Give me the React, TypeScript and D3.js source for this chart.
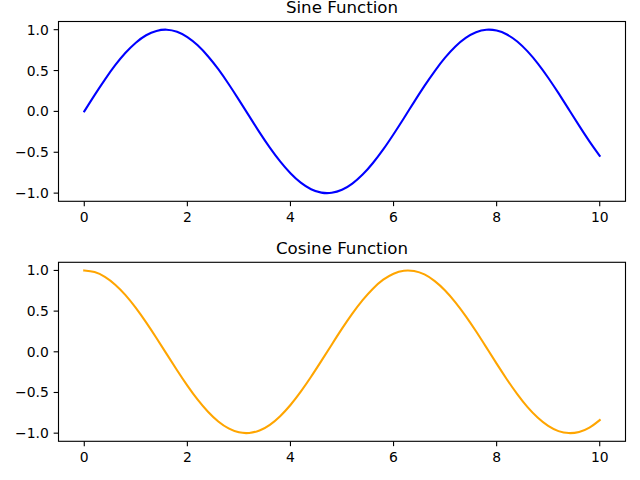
import React from "react";
import * as d3 from "d3";

const xValues = [0,0.2,0.4,0.6,0.8,1.0,1.2,1.4,1.6,1.8,2.0,2.2,2.4,2.6,2.8,3.0,3.2,3.4,3.6,3.8,4.0,4.2,4.4,4.6,4.8,5.0,5.2,5.4,5.6,5.8,6.0,6.2,6.4,6.6,6.8,7.0,7.2,7.4,7.6,7.8,8.0,8.2,8.4,8.6,8.8,9.0,9.2,9.4,9.6,9.8,10.0];
const sineValues = [0,0.199,0.389,0.565,0.717,0.841,0.932,0.985,1.0,0.974,0.909,0.808,0.675,0.516,0.335,0.141,-0.058,-0.256,-0.443,-0.612,-0.757,-0.872,-0.952,-0.994,-0.996,-0.959,-0.883,-0.773,-0.631,-0.465,-0.279,-0.083,0.117,0.312,0.494,0.657,0.794,0.899,0.968,0.999,0.989,0.941,0.855,0.734,0.585,0.412,0.223,0.025,-0.174,-0.366,-0.544];
const cosineValues = [1.0,0.98,0.921,0.825,0.697,0.54,0.362,0.17,-0.029,-0.227,-0.416,-0.589,-0.737,-0.857,-0.942,-0.99,-0.998,-0.967,-0.897,-0.791,-0.654,-0.49,-0.307,-0.112,0.087,0.284,0.469,0.635,0.776,0.886,0.96,0.997,0.993,0.951,0.869,0.754,0.608,0.439,0.252,0.054,-0.146,-0.34,-0.52,-0.68,-0.811,-0.911,-0.975,-0.999,-0.985,-0.932,-0.839];
const xTicks = [0, 2, 4, 6, 8, 10];
const yTicks = [-1.0, -0.5, 0.0, 0.5, 1.0];

const FONT = "DejaVu Sans, sans-serif";

type PanelProps = { top: number; bottom: number; title: string; ys: number[]; color: string };

function Panel({ top, bottom, title, ys, color }: PanelProps) {
  const left = 58.5, right = 625.5;
  const x = d3.scaleLinear().domain([-0.5, 10.5]).range([left, right]);
  const y = d3.scaleLinear().domain([-1.1, 1.1]).range([bottom, top]);
  const line = d3.line<number>().x((_, i) => x(xValues[i])).y((d) => y(d)).curve(d3.curveNatural);
  const fmt = (v: number) => v.toFixed(1).replace("-", "\u2212");
  return (
    <g>
      <path d={line(ys) || ""} fill="none" stroke={color} strokeWidth={2.08} strokeLinejoin="round" strokeLinecap="square" />
      <rect x={left} y={top} width={right - left} height={bottom - top} fill="none" stroke="#000" strokeWidth={1.11} />
      {xTicks.map((t) => (
        <g key={"x" + t}>
          <line x1={x(t)} x2={x(t)} y1={bottom} y2={bottom + 4.86} stroke="#000" strokeWidth={1.11} />
          <text x={x(t)} y={bottom + 20.5} textAnchor="middle" fontFamily={FONT} fontSize={13.9} fill="#000">{t}</text>
        </g>
      ))}
      {yTicks.map((t) => (
        <g key={"y" + t}>
          <line x1={left - 4.86} x2={left} y1={y(t)} y2={y(t)} stroke="#000" strokeWidth={1.11} />
          <text x={left - 9.7} y={y(t)} dy="0.36em" textAnchor="end" fontFamily={FONT} fontSize={13.9} fill="#000">{fmt(t)}</text>
        </g>
      ))}
      <text x={(left + right) / 2} y={top - 8.3} textAnchor="middle" fontFamily={FONT} fontSize={16.67} fill="#000">{title}</text>
    </g>
  );
}

export default function App() {
  return (
    <svg width={640} height={480} style={{ position: "absolute", left: 0, top: 0, background: "#fff" }}>
      <rect x={0} y={0} width={640} height={480} fill="#fff" />
      <Panel top={21.5} bottom={201.3} title="Sine Function" ys={sineValues} color="blue" />
      <Panel top={262.3} bottom={441.3} title="Cosine Function" ys={cosineValues} color="orange" />
    </svg>
  );
}
